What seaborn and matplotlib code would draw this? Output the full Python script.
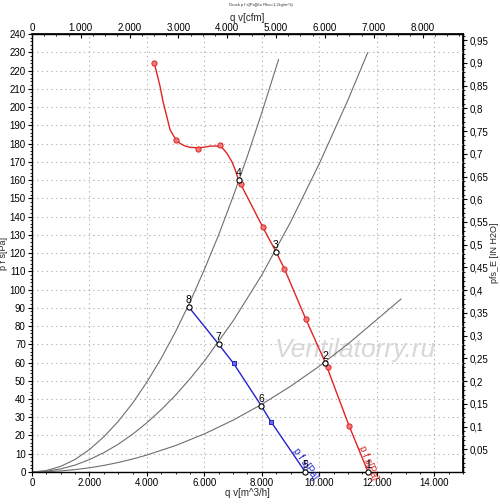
import matplotlib
matplotlib.use("Agg")
import matplotlib.pyplot as plt
import seaborn as sns
from matplotlib.ticker import MultipleLocator, FixedLocator, FuncFormatter

# ---------------- data ----------------
red_curve_q = [4251, 4345, 4460, 4554, 4692, 4808, 4983, 5157, 5331, 5505, 5738, 5969,
               6202, 6435, 6610, 6784, 6958, 7073, 7189, 8025, 8490, 8780, 9524, 10209,
               11022, 11697]
red_curve_p = [224.3, 218.5, 211.1, 203.4, 194.7, 187.4, 182.8, 180.0, 178.6, 177.9, 177.7,
               177.9, 178.6, 178.6, 177.9, 174.6, 170.0, 165.5, 160.0, 134.4, 120.7, 111.5,
               84.0, 59.9, 25.8, 0.0]
red_marker_q = [4251, 5017, 5773, 6527, 7271, 8025, 8780, 9524, 10290, 11022]
red_marker_p = [224.3, 181.9, 176.8, 179.3, 157.8, 134.4, 111.2, 83.8, 57.4, 25.4]

blue_curve_q = [5447, 6493, 7015, 7979, 8316, 9512]
blue_curve_p = [90.6, 70.1, 59.5, 36.3, 27.6, 0.0]
blue_marker_q = [7015, 8316]
blue_marker_p = [59.5, 27.6]

sysA_q = [0, 500, 1000, 1500, 2000, 2500, 3000, 3500, 4000, 4500, 5000, 5500, 6000,
          6500, 7000, 7500, 8000, 8582]
sysA_p = [0, 0.8, 3.1, 6.9, 12.3, 19.3, 27.7, 37.7, 49.3, 62.4, 77.0, 93.2, 111.0,
          130.1, 151.0, 173.3, 197.0, 226.1]
sysB_q = [0, 500, 1000, 1500, 2000, 2500, 3000, 3500, 4000, 4500, 5000, 5500, 6000,
          7000, 8000, 9000, 10000, 11000, 11683]
sysB_p = [0, 0.4, 1.7, 3.8, 6.8, 10.6, 15.2, 20.7, 27.0, 34.2, 42.2, 51.1, 60.8,
          82.8, 108.0, 137.0, 169.0, 204.0, 229.8]
sysC_q = [0, 500, 1000, 1500, 2000, 2500, 3000, 3500, 4000, 5000, 6000, 7000, 8000,
          9000, 10000, 11000, 12000, 12846]
sysC_p = [0, 0.15, 0.6, 1.3, 2.3, 3.6, 5.2, 7.1, 9.3, 14.5, 20.9, 28.4, 37.1,
          47.0, 58.0, 70.2, 83.5, 94.8]

op_labels = ["1", "2", "3", "4", "5", "6", "7", "8"]
op_q = [11697, 10209, 8490, 7189, 9512, 7979, 6493, 5447]
op_p = [0.0, 59.9, 120.7, 160.0, 0.0, 36.3, 70.1, 90.6]

right_ticks = [0.05, 0.1, 0.15, 0.2, 0.25, 0.3, 0.35, 0.4, 0.45, 0.5, 0.55, 0.6, 0.65,
               0.7, 0.75, 0.8, 0.85, 0.9, 0.95]
top_ticks = [0, 1000, 2000, 3000, 4000, 5000, 6000, 7000, 8000]

PA_PER_INH2O = 249.089
M3H_PER_CFM = 1.699

# ---------------- style ----------------
sns.set_theme(style="ticks")
plt.rcParams["font.family"] = ["Liberation Sans", "DejaVu Sans"]
plt.rcParams["axes.edgecolor"] = "black"
plt.rcParams["xtick.color"] = "black"
plt.rcParams["ytick.color"] = "black"

fig = plt.figure(figsize=(5.0, 5.04), dpi=100)
ax = fig.add_axes([0.064, 0.0635, 0.862, 0.869])

gray = "#6e6e6e"
for q, p in [(sysA_q, sysA_p), (sysB_q, sysB_p), (sysC_q, sysC_p)]:
    sns.lineplot(x=q, y=p, ax=ax, color=gray, linewidth=0.8, sort=False, estimator=None)

sns.lineplot(x=red_curve_q, y=red_curve_p, ax=ax, color="#e02424", linewidth=1.0,
             sort=False, estimator=None)
sns.lineplot(x=blue_curve_q, y=blue_curve_p, ax=ax, color="#2323c8", linewidth=1.0,
             sort=False, estimator=None)
ax.scatter(red_marker_q, red_marker_p, s=14, marker="o", facecolor="#f07a7a",
           edgecolor="#e02424", linewidths=0.7, zorder=4)
ax.scatter(blue_marker_q, blue_marker_p, s=12, marker="s", facecolor="#6b6bf0",
           edgecolor="#2323c8", linewidths=0.7, zorder=4)

ax.scatter(op_q, op_p, s=14, marker="o", facecolor="white", edgecolor="black",
           linewidths=0.8, zorder=5, clip_on=False)
for lab, q, p in zip(op_labels, op_q, op_p):
    ax.annotate(lab, (q, p), xytext=(0, 1.5), textcoords="offset points",
                ha="center", va="bottom", fontsize=7.5, color="black", zorder=6,
                annotation_clip=False)

# curve labels
ax.text(9030, 11, "p f s[Pa]", color="#2323c8", fontsize=7, rotation=-55,
        rotation_mode="anchor", ha="left", va="bottom")
ax.text(11300, 13, "p f s[Pa]", color="#e02424", fontsize=7, rotation=-68,
        rotation_mode="anchor", ha="left", va="bottom")

# watermark
ax.text(11250, 67, "Ventilatorry.ru", fontsize=19, style="italic", color="#d8d8d8",
        ha="center", va="center", zorder=1)

ax.set_xlim(0, 15000)
ax.set_ylim(0, 240)
ax.xaxis.set_major_locator(MultipleLocator(2000))
ax.xaxis.set_minor_locator(MultipleLocator(500))
ax.yaxis.set_major_locator(MultipleLocator(10))
ax.yaxis.set_minor_locator(MultipleLocator(2))
ax.xaxis.set_major_formatter(FuncFormatter(lambda v, pos: f"{int(round(v)):,}".replace(",", ".")))
ax.grid(True, which="major", color="#b4b4b4", linestyle=(0, (1.2, 3)), linewidth=0.8)
ax.tick_params(axis="both", which="major", labelsize=7, length=3, width=0.8, pad=1.5)
ax.tick_params(axis="both", which="minor", length=1.5, width=0.6)
for s in ax.spines.values():
    s.set_color("black")
    s.set_linewidth(1.0)

ax.set_xlabel("q v[m^3/h]", fontsize=7, labelpad=0)
ax.set_ylabel("p f s[Pa]", fontsize=6.5, labelpad=1)

# right axis (inch H2O)
sec_y = ax.secondary_yaxis("right", functions=(lambda p: p / PA_PER_INH2O,
                                                lambda i: i * PA_PER_INH2O))
sec_y.yaxis.set_major_locator(FixedLocator(right_ticks))
sec_y.yaxis.set_minor_locator(MultipleLocator(0.01))
sec_y.yaxis.set_major_formatter(FuncFormatter(
    lambda v, pos: (f"{v:.2f}".rstrip("0").rstrip(".")).replace(".", ",")))
sec_y.tick_params(which="major", labelsize=7, length=3, width=0.8, pad=1.5)
sec_y.tick_params(which="minor", length=1.5, width=0.6)
sec_y.set_ylabel("pfs_E [IN H2O]", fontsize=6.5, labelpad=1)

# top axis (cfm)
sec_x = ax.secondary_xaxis("top", functions=(lambda q: q / M3H_PER_CFM,
                                              lambda c: c * M3H_PER_CFM))
sec_x.xaxis.set_major_locator(FixedLocator(top_ticks))
sec_x.xaxis.set_minor_locator(MultipleLocator(250))
sec_x.xaxis.set_major_formatter(FuncFormatter(lambda v, pos: f"{int(round(v)):,}".replace(",", ".")))
sec_x.tick_params(which="major", labelsize=7, length=3, width=0.8, pad=1, direction="in")
sec_x.tick_params(which="minor", length=1.5, width=0.6, direction="in")
sec_x.set_xlabel("q v[cfm]", fontsize=7, labelpad=1)

fig.text(0.522, 0.990, "Druck p f s[Pa](für Rho=1,2kg/m^3)", fontsize=3, ha="center",
         va="center", color="#333333")

fig.savefig("out.png", dpi=100)
